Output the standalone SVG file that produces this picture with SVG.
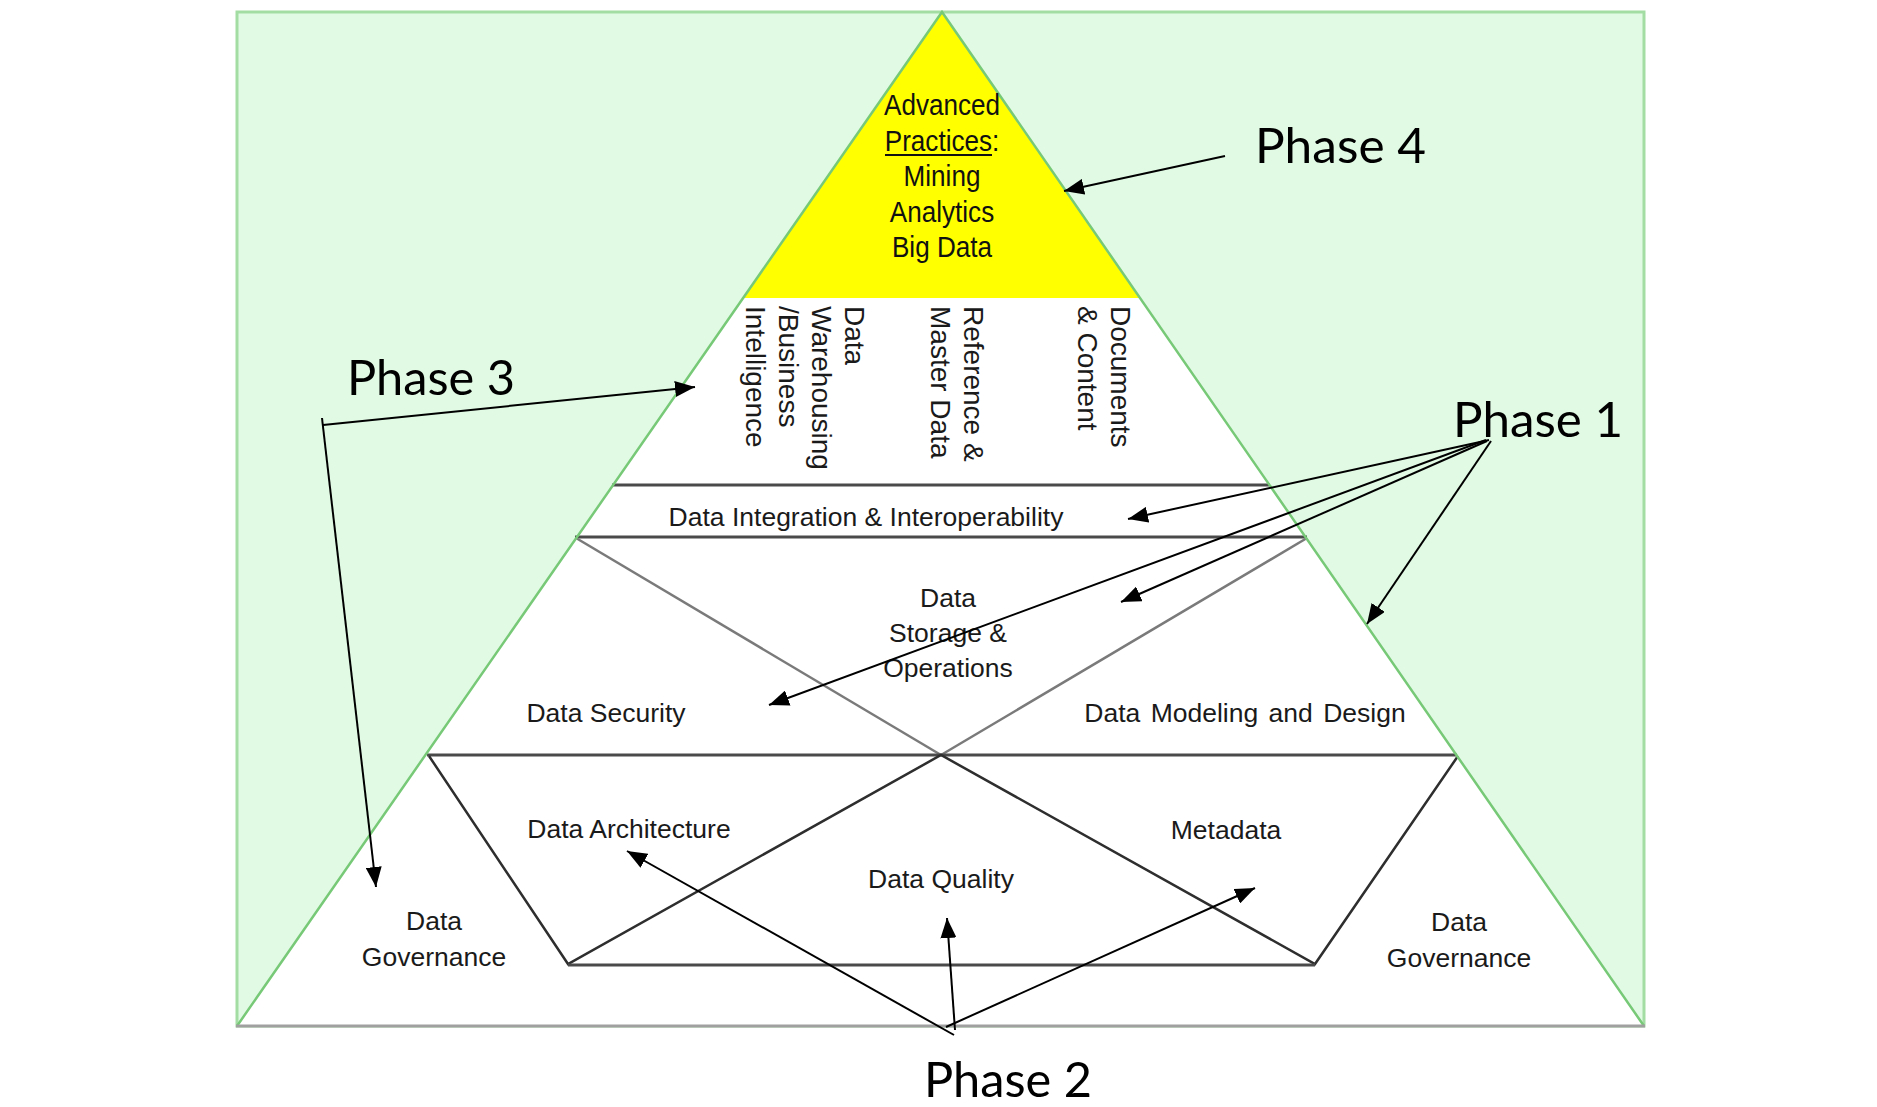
<svg xmlns="http://www.w3.org/2000/svg" width="1877" height="1107" viewBox="0 0 1877 1107">
  <style>
    .lbl { font-family: "Liberation Sans", Arial, sans-serif; font-size: 26.5px; fill: #1a1a1a; text-anchor: middle; }
    .vert { font-family: "Liberation Sans", Arial, sans-serif; font-size: 28px; fill: #1a1a1a; }
    .top { font-family: "Liberation Sans", Arial, sans-serif; font-size: 29px; fill: #111; text-anchor: middle; }
    .phase { font-family: Lato, "Open Sans", sans-serif; font-size: 49px; fill: #000; }
    .band { stroke: #4a4a4a; stroke-width: 3; fill: none; }
    .xlight { stroke: #7a7a7a; stroke-width: 2.5; fill: none; }
    .xdark { stroke: #2e2e2e; stroke-width: 2.5; fill: none; }
    .arrow { stroke: #000; stroke-width: 2; fill: none; marker-end: url(#head); }
  </style>
  <defs>
    <marker id="head" markerWidth="20" markerHeight="16" refX="20" refY="8" orient="auto" markerUnits="userSpaceOnUse">
      <path d="M0,0 L20,8 L0,16 z" fill="#000"/>
    </marker>
  </defs>

  <rect width="1877" height="1107" fill="#ffffff"/>

  <!-- frame and pyramid -->
  <g id="frame">
    <rect x="237" y="12" width="1407" height="1014" fill="#e1fae4" stroke="#a3dda3" stroke-width="3"/>
    <polygon points="942,12 237,1026 1644,1026" fill="#ffffff"/>
    <polygon points="942,12 743,298 1140,298" fill="#ffff00"/>
  </g>

  <!-- band dividers and cross lines -->
  <g id="bands">
    <line class="band" x1="612" y1="485" x2="1270" y2="485"/>
    <line class="band" x1="575" y1="537" x2="1307" y2="537"/>
    <line class="xlight" x1="576" y1="538" x2="941" y2="755"/>
    <line class="xlight" x1="1307" y1="538" x2="941" y2="755"/>
    <line class="band" x1="427" y1="755" x2="1457" y2="755"/>
    <polyline class="xdark" points="429,756 568,964 941,755 1315,964 1458,756"/>
    <line class="band" x1="568" y1="965" x2="1315" y2="965"/>
  </g>

  <!-- pyramid outline -->
  <g id="outline">
    <polyline points="237,1026 942,12 1644,1026" fill="none" stroke="#77c977" stroke-width="2.5"/>
    <line x1="236" y1="1026" x2="1645" y2="1026" stroke="#a0a0a0" stroke-width="3"/>
  </g>

  <g id="node-advanced">
    <g transform="translate(942,0) scale(0.9,1)">
      <text class="top" x="0" y="115">Advanced</text>
      <text class="top" x="0" y="151">Practices:</text>
      <text class="top" x="0" y="186">Mining</text>
      <text class="top" x="0" y="222">Analytics</text>
      <text class="top" x="0" y="257">Big Data</text>
    </g>
    <line x1="885" y1="155" x2="992" y2="155" stroke="#111" stroke-width="2"/>
  </g>

  <g id="node-dw-bi">
    <text class="vert" transform="translate(845,306) rotate(90)">Data</text>
    <text class="vert" transform="translate(812,306) rotate(90)">Warehousing</text>
    <text class="vert" transform="translate(779,306) rotate(90)">/Business</text>
    <text class="vert" transform="translate(746,306) rotate(90)">Intelligence</text>
  </g>
  <g id="node-reference">
    <text class="vert" transform="translate(964,306) rotate(90)">Reference &amp;</text>
    <text class="vert" transform="translate(931,306) rotate(90)">Master Data</text>
  </g>
  <g id="node-documents">
    <text class="vert" transform="translate(1111,306) rotate(90)">Documents</text>
    <text class="vert" transform="translate(1078,306) rotate(90)">&amp; Content</text>
  </g>

  <g id="node-integration">
    <text class="lbl" x="866" y="526">Data Integration  &amp; Interoperability</text>
  </g>
  <g id="node-storage">
    <text class="lbl" x="948" y="607">Data</text>
    <text class="lbl" x="948" y="642">Storage &amp;</text>
    <text class="lbl" x="948" y="677">Operations</text>
  </g>
  <g id="node-security">
    <text class="lbl" x="606" y="722">Data Security</text>
  </g>
  <g id="node-modeling">
    <text class="lbl" x="1245" y="722" word-spacing="3">Data Modeling and Design</text>
  </g>
  <g id="node-architecture">
    <text class="lbl" x="629" y="838">Data Architecture</text>
  </g>
  <g id="node-quality">
    <text class="lbl" x="941" y="888">Data Quality</text>
  </g>
  <g id="node-metadata">
    <text class="lbl" x="1226" y="839">Metadata</text>
  </g>
  <g id="node-governance-left">
    <text class="lbl" x="434" y="930">Data</text>
    <text class="lbl" x="434" y="966">Governance</text>
  </g>
  <g id="node-governance-right">
    <text class="lbl" x="1459" y="931">Data</text>
    <text class="lbl" x="1459" y="967">Governance</text>
  </g>

  <g id="node-phase4"><text class="phase" x="1255" y="163" textLength="171" lengthAdjust="spacingAndGlyphs">Phase 4</text></g>
  <g id="node-phase3"><text class="phase" x="347" y="395" textLength="168" lengthAdjust="spacingAndGlyphs">Phase 3</text></g>
  <g id="node-phase1"><text class="phase" x="1453" y="437" textLength="170" lengthAdjust="spacingAndGlyphs">Phase 1</text></g>
  <g id="node-phase2"><text class="phase" x="924" y="1097" textLength="168" lengthAdjust="spacingAndGlyphs">Phase 2</text></g>

  <!-- connectors -->
  <g id="connectors">
    <line class="arrow" x1="1225" y1="156" x2="1064" y2="191"/>
    <line class="arrow" x1="323" y1="425" x2="695" y2="387"/>
    <line class="arrow" x1="322" y1="418" x2="376" y2="887"/>
    <line class="arrow" x1="1489" y1="440" x2="1128" y2="519"/>
    <line class="arrow" x1="1486" y1="440" x2="769" y2="705"/>
    <line class="arrow" x1="1487" y1="441" x2="1121" y2="602"/>
    <line class="arrow" x1="1491" y1="441" x2="1367" y2="624"/>
    <line class="arrow" x1="954" y1="1035" x2="627" y2="851"/>
    <line class="arrow" x1="955" y1="1030" x2="947" y2="918"/>
    <line class="arrow" x1="946" y1="1027" x2="1255" y2="888"/>
  </g>
</svg>
